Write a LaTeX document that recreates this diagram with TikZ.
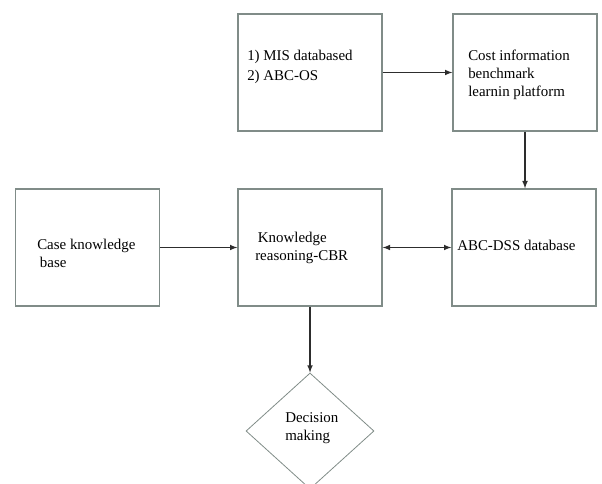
\documentclass[tikz,border=0pt]{standalone}
\usepackage{fontspec}
\setmainfont{Liberation Serif}
\usetikzlibrary{shapes.geometric}
\definecolor{grigiobordo}{RGB}{128,140,136}
\definecolor{grigiofreccia}{RGB}{45,45,45}
\tikzset{
  blocco/.style={draw=grigiobordo, line width=1pt, minimum width=108pt, minimum height=87.75pt, inner sep=0pt},
  testo/.style={anchor=west, align=left, inner sep=0pt, font=\fontsize{11.2}{13.5}\selectfont},
  decisione/.style={diamond, draw=grigiobordo, line width=0.6pt, minimum width=96pt, minimum height=87pt, inner sep=0pt},
  freccia/.style={draw=grigiofreccia, line width=0.9pt, -latex}
}
\begin{document}
\begin{tikzpicture}[x=0.75pt, y=-0.75pt]
        \useasboundingbox (0,0) rectangle (602,484);

        % Riga superiore
        \node[blocco] (mis) at (310,72.5) {};
        \node[testo] (tmis) at (247,67) {1) MIS databased\\[1.5pt]2) ABC-OS};
        \node[blocco] (cost) at (525,72.5) {};
        \node[testo] (tcost) at (468,75) {Cost information\\benchmark\\learnin platform};

        % Riga centrale
        \node[blocco] (case) at (87.5,247.5) {};
        \node[testo] (tcase) at (37,253) {Case knowledge\\\hspace{2pt}base};
        \node[blocco] (kbr) at (310,247.5) {};
        \node[testo] (tkbr) at (255,247.5) {\hspace{2pt}Knowledge\\reasoning-CBR};
        \node[blocco] (dss) at (524,247.5) {};
        \node[testo] (tdss) at (457,245) {ABC-DSS database};

        % Decisione finale
        \node[decisione] (dec) at (310,431) {};
        \node[testo] (tdec) at (285,428) {Decision\\making};

        % Frecce
        \draw[freccia] (mis) -- (cost);
        \draw[freccia] (cost) -- (cost |- dss.north);
        \draw[freccia] (case) -- (kbr);
        \draw[freccia, latex-latex] (kbr) -- (dss);
        \draw[freccia] (kbr) -- (dec);
    \end{tikzpicture}
\end{document}
